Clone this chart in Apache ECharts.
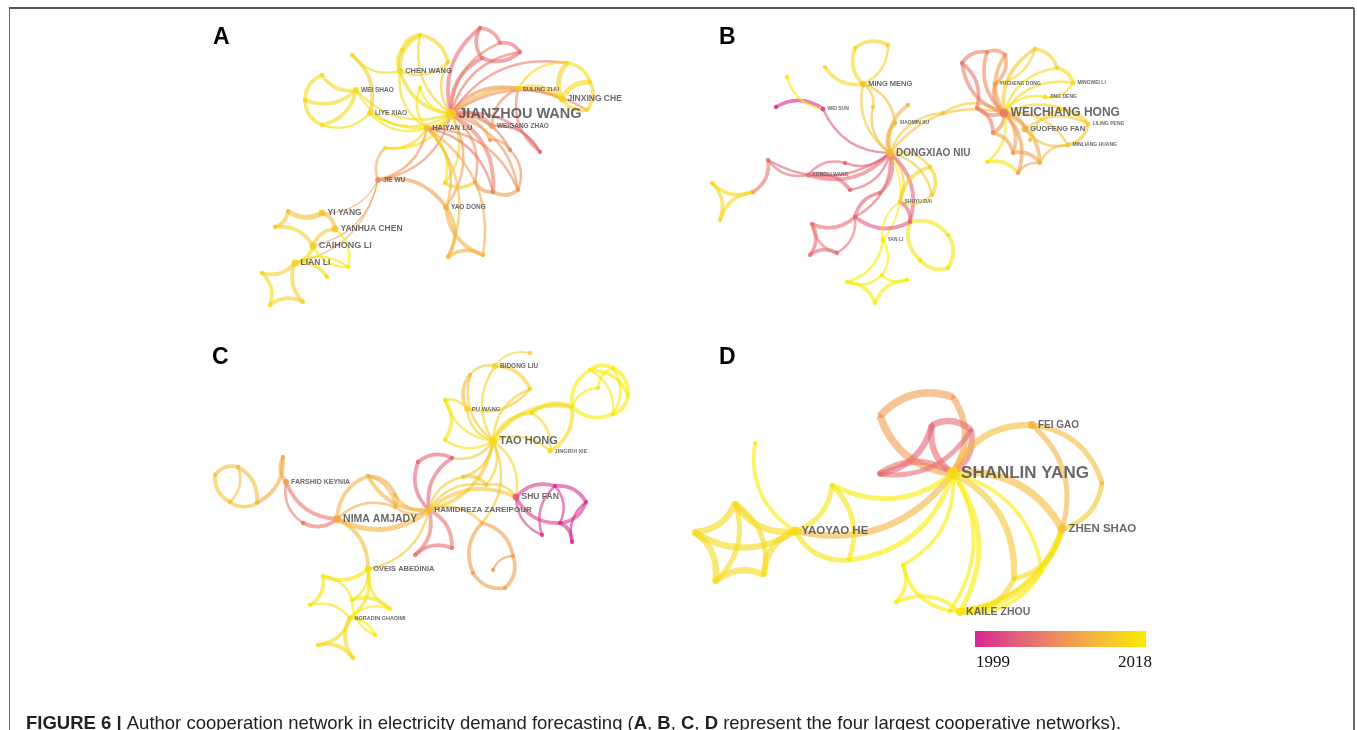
<!DOCTYPE html>
<html>
<head>
<meta charset="utf-8">
<script src="https://cdn.jsdelivr.net/npm/echarts@6/dist/echarts.min.js"></script>
<style>
html,body{margin:0;padding:0;background:#fff;}
#main{width:1357px;height:730px;}
</style>
</head>
<body>
<div id="main"></div>
<script>
// node: [name, x, y, year, papers]   link: [source, target, year, strength]
// names starting with "_" are authors without a printed label

const nodesA = [
	['JIANZHOU WANG', 451, 114, 2015, 22], ['HAIYAN LU', 427, 128, 2013, 8], ['CHEN WANG', 400, 71, 2016, 8],
	['WEI SHAO', 356, 90, 2016, 6], ['LIYE XIAO', 370, 113, 2016, 6], ['SULING ZHU', 518, 89, 2014, 5],
	['JINXING CHE', 562, 99, 2015, 10], ['WEIGANG ZHAO', 492, 126, 2010, 6], ['JIE WU', 378, 180, 2008, 6],
	['YAO DONG', 446, 207, 2012, 6], ['YI YANG', 322, 213, 2014, 10], ['YANHUA CHEN', 335, 229, 2014, 10],
	['CAIHONG LI', 313, 246, 2015, 11], ['LIAN LI', 295, 263, 2015, 10],
	['_a1', 305, 100, 2016, 1], ['_a2', 322, 75, 2016, 1], ['_a3', 322, 125, 2016, 1], ['_a4', 352, 55, 2016, 1],
	['_a5', 420, 35, 2016, 1], ['_a6', 402, 50, 2016, 1], ['_a7', 448, 62, 2015, 1], ['_a8', 480, 28, 2005, 1],
	['_a9', 500, 43, 2007, 1], ['_a10', 520, 52, 2005, 1], ['_a11', 482, 58, 2006, 1], ['_a12', 567, 63, 2016, 1],
	['_a13', 590, 82, 2016, 1], ['_a14', 587, 110, 2015, 1], ['_a15', 540, 152, 2004, 1], ['_a16', 518, 190, 2009, 1],
	['_a17', 493, 192, 2008, 1], ['_a18', 475, 182, 2010, 1], ['_a19', 445, 183, 2015, 1], ['_a20', 490, 140, 2010, 1],
	['_a21', 510, 150, 2007, 1], ['_a22', 448, 257, 2012, 1], ['_a23', 483, 255, 2012, 1], ['_a24', 385, 148, 2016, 1],
	['_a25', 420, 88, 2017, 1], ['_a28', 288, 211, 2013, 1], ['_a29', 275, 227, 2014, 1], ['_a30', 348, 267, 2018, 1],
	['_a31', 327, 277, 2016, 1], ['_a32', 262, 273, 2015, 1], ['_a33', 270, 305, 2016, 1], ['_a34', 303, 302, 2015, 1]
];
const linksA = [
	['JIANZHOU WANG', 'HAIYAN LU', 2014, 4], ['JIANZHOU WANG', 'CHEN WANG', 2016, 3], ['JIANZHOU WANG', 'WEI SHAO', 2016, 2],
	['JIANZHOU WANG', 'LIYE XIAO', 2017, 2], ['JIANZHOU WANG', 'SULING ZHU', 2009, 3], ['JIANZHOU WANG', 'JINXING CHE', 2012, 3],
	['JIANZHOU WANG', 'WEIGANG ZHAO', 2007, 3], ['JIANZHOU WANG', 'JIE WU', 2008, 2], ['JIANZHOU WANG', 'YAO DONG', 2010, 2],
	['JIANZHOU WANG', '_a8', 2005, 3], ['JIANZHOU WANG', '_a11', 2005, 3], ['JIANZHOU WANG', '_a10', 2006, 2],
	['JIANZHOU WANG', '_a9', 2008, 2], ['JIANZHOU WANG', '_a5', 2015, 2], ['JIANZHOU WANG', '_a7', 2014, 2],
	['JIANZHOU WANG', '_a15', 2005, 2], ['JIANZHOU WANG', '_a16', 2009, 2], ['JIANZHOU WANG', '_a17', 2007, 3],
	['JIANZHOU WANG', '_a18', 2008, 2], ['JIANZHOU WANG', '_a19', 2016, 2], ['JIANZHOU WANG', '_a20', 2010, 2],
	['JIANZHOU WANG', '_a21', 2007, 2], ['JIANZHOU WANG', '_a24', 2017, 2], ['JIANZHOU WANG', '_a25', 2018, 2],
	['JIANZHOU WANG', '_a14', 2008, 2], ['JIANZHOU WANG', '_a12', 2006, 2],
	['HAIYAN LU', 'CHEN WANG', 2016, 2], ['HAIYAN LU', 'LIYE XIAO', 2017, 2], ['HAIYAN LU', 'WEI SHAO', 2016, 1.5],
	['HAIYAN LU', 'YAO DONG', 2012, 2], ['HAIYAN LU', 'JIE WU', 2009, 2], ['HAIYAN LU', '_a19', 2017, 2],
	['HAIYAN LU', '_a24', 2016, 2], ['HAIYAN LU', '_a22', 2013, 2], ['HAIYAN LU', '_a23', 2011, 2],
	['HAIYAN LU', '_a16', 2008, 2], ['HAIYAN LU', '_a17', 2006, 2], ['HAIYAN LU', '_a25', 2017, 2],
	['WEI SHAO', '_a1', 2016, 3], ['WEI SHAO', '_a2', 2016, 3], ['WEI SHAO', '_a3', 2016, 3],
	['_a1', '_a2', 2016, 3], ['_a3', '_a1', 2016, 3], ['LIYE XIAO', '_a3', 2016, 2],
	['_a4', 'LIYE XIAO', 2014, 3], ['CHEN WANG', '_a4', 2016, 2],
	['CHEN WANG', '_a5', 2016, 3], ['CHEN WANG', '_a6', 2016, 3], ['_a6', '_a5', 2016, 3], ['_a5', '_a7', 2015, 3], ['_a7', 'CHEN WANG', 2015, 2],
	['_a8', '_a9', 2006, 3], ['_a9', '_a10', 2005, 3], ['_a10', '_a11', 2005, 3], ['_a11', '_a8', 2005, 3],
	['JINXING CHE', '_a12', 2015, 4], ['JINXING CHE', '_a13', 2016, 4], ['_a12', '_a13', 2016, 3],
	['_a13', '_a14', 2015, 3], ['_a14', 'JINXING CHE', 2016, 3], ['SULING ZHU', '_a12', 2016, 2],
	['SULING ZHU', 'JINXING CHE', 2015, 3], ['WEIGANG ZHAO', 'SULING ZHU', 2008, 2], ['WEIGANG ZHAO', '_a15', 2004, 2],
	['_a15', 'SULING ZHU', 2006, 2],
	['_a16', '_a17', 2010, 3], ['_a17', '_a18', 2009, 3], ['_a18', '_a19', 2014, 3], ['_a21', '_a16', 2008, 2], ['_a20', '_a21', 2009, 2],
	['YAO DONG', '_a22', 2012, 3], ['_a23', 'YAO DONG', 2012, 3], ['_a22', '_a23', 2012, 3],
	['JIE WU', 'YAO DONG', 2010, 3], ['JIE WU', '_a24', 2011, 2],
	['JIE WU', 'CAIHONG LI', 2009, 1], ['JIE WU', 'YI YANG', 2009, 1], ['JIE WU', 'LIAN LI', 2010, 1],
	['YI YANG', 'YANHUA CHEN', 2013, 3], ['YI YANG', '_a28', 2013, 4], ['_a28', '_a29', 2014, 3], ['_a29', 'CAIHONG LI', 2015, 3],
	['CAIHONG LI', 'YANHUA CHEN', 2014, 3], ['CAIHONG LI', 'LIAN LI', 2016, 3], ['LIAN LI', '_a30', 2017, 2],
	['_a30', 'CAIHONG LI', 2018, 2], ['YANHUA CHEN', '_a30', 2018, 2], ['LIAN LI', '_a31', 2016, 3],
	['LIAN LI', '_a32', 2015, 3], ['_a32', '_a33', 2016, 3], ['_a33', '_a34', 2015, 3], ['_a34', 'LIAN LI', 2015, 3]
];

const nodesB = [
	['DONGXIAO NIU', 890, 153, 2013, 13], ['WEICHIANG HONG', 1004, 113, 2006, 17], ['MING MENG', 863, 84, 2014, 8],
	['WEI SUN', 823, 109, 2001, 3], ['XIAOMIN XU', 895, 123, 2012, 3], ['YONGLI WANG', 808, 175, 2006, 3],
	['SHUYU DAI', 900, 202, 2015, 3], ['YAN LI', 883, 240, 2018, 3], ['YUCHENG DONG', 995, 84, 2010, 3],
	['MINGWEI LI', 1073, 83, 2016, 3], ['JING DENG', 1045, 97, 2017, 3], ['GUOFENG FAN', 1025, 129, 2011, 8],
	['LILING PENG', 1088, 124, 2015, 3], ['MINLIANG HUANG', 1068, 145, 2014, 3],
	['_b1', 776, 107, 1999, 1], ['_b2', 787, 77, 2017, 1], ['_b3', 825, 67, 2016, 1], ['_b4', 855, 48, 2016, 1],
	['_b5', 888, 45, 2015, 1], ['_b6', 873, 107, 2014, 1], ['_b7', 908, 105, 2012, 1], ['_b8', 768, 160, 2005, 1],
	['_b9', 753, 192, 2010, 1], ['_b10', 712, 183, 2016, 1], ['_b11', 720, 220, 2016, 1], ['_b12', 845, 163, 2004, 1],
	['_b13', 850, 190, 2004, 1], ['_b14', 930, 167, 2015, 1], ['_b15', 932, 195, 2015, 1], ['_b16', 910, 222, 2003, 1],
	['_b17', 855, 217, 2004, 1], ['_b18', 880, 193, 2005, 1], ['_b19', 812, 224, 2005, 1], ['_b20', 810, 255, 2005, 1],
	['_b21', 837, 253, 2005, 1], ['_b22', 948, 235, 2017, 1], ['_b23', 948, 268, 2017, 1], ['_b24', 920, 260, 2017, 1],
	['_b25', 847, 282, 2018, 1], ['_b26', 875, 303, 2018, 1], ['_b27', 907, 280, 2018, 1], ['_b28', 882, 275, 2018, 1],
	['_b29', 943, 113, 2014, 1], ['_b30', 962, 63, 2006, 1], ['_b31', 987, 52, 2007, 1], ['_b32', 1005, 55, 2009, 1],
	['_b33', 1035, 49, 2015, 1], ['_b34', 1057, 68, 2016, 1], ['_b35', 977, 108, 2007, 1], ['_b36', 993, 133, 2008, 1],
	['_b37', 1013, 153, 2010, 1], ['_b38', 1040, 163, 2011, 1], ['_b39', 987, 162, 2017, 1], ['_b40', 1018, 173, 2010, 1],
	['_b41', 1030, 140, 2014, 1], ['_b42', 1060, 110, 2015, 1]
];
const linksB = [
	['DONGXIAO NIU', 'MING MENG', 2014, 2], ['DONGXIAO NIU', 'WEI SUN', 2003, 2], ['DONGXIAO NIU', 'XIAOMIN XU', 2012, 3],
	['DONGXIAO NIU', 'YONGLI WANG', 2005, 3], ['DONGXIAO NIU', 'SHUYU DAI', 2015, 2], ['DONGXIAO NIU', 'YAN LI', 2018, 1.5],
	['DONGXIAO NIU', '_b6', 2013, 2], ['DONGXIAO NIU', '_b7', 2012, 3], ['DONGXIAO NIU', '_b12', 2004, 2],
	['DONGXIAO NIU', '_b13', 2004, 2], ['DONGXIAO NIU', '_b14', 2014, 2], ['DONGXIAO NIU', '_b15', 2014, 2],
	['DONGXIAO NIU', '_b16', 2004, 3], ['DONGXIAO NIU', '_b17', 2005, 2], ['DONGXIAO NIU', '_b18', 2005, 3],
	['DONGXIAO NIU', '_b29', 2014, 2], ['DONGXIAO NIU', 'WEICHIANG HONG', 2013, 2], ['DONGXIAO NIU', '_b8', 2004, 2],
	['MING MENG', '_b3', 2016, 3], ['MING MENG', '_b4', 2016, 3], ['_b4', '_b5', 2015, 3], ['_b5', 'MING MENG', 2015, 2],
	['MING MENG', 'XIAOMIN XU', 2013, 2], ['MING MENG', '_b6', 2014, 2],
	['_b1', 'WEI SUN', 1999, 3], ['WEI SUN', '_b2', 2017, 2],
	['YONGLI WANG', '_b8', 2005, 2], ['_b8', '_b9', 2006, 3], ['_b9', '_b10', 2016, 3], ['_b10', '_b11', 2016, 3],
	['_b11', '_b9', 2016, 3], ['YONGLI WANG', '_b12', 2005, 2], ['YONGLI WANG', '_b13', 2004, 3],
	['SHUYU DAI', '_b14', 2015, 3], ['_b14', '_b15', 2015, 3], ['_b15', 'SHUYU DAI', 2015, 2], ['SHUYU DAI', '_b16', 2004, 3],
	['_b16', '_b17', 2003, 3], ['_b17', '_b18', 2004, 3], ['_b17', '_b19', 2005, 3], ['_b19', '_b20', 2005, 3],
	['_b20', '_b21', 2005, 3], ['_b21', '_b19', 2006, 2], ['_b17', '_b21', 2005, 2],
	['_b16', '_b22', 2017, 3], ['_b22', '_b23', 2017, 3], ['_b23', '_b24', 2017, 3], ['_b24', '_b16', 2017, 3],
	['YAN LI', '_b25', 2018, 2], ['_b25', '_b26', 2018, 3], ['_b26', '_b27', 2018, 3], ['_b27', '_b28', 2018, 2],
	['_b28', '_b25', 2018, 2], ['YAN LI', '_b28', 2018, 2], ['YAN LI', 'SHUYU DAI', 2017, 1.5],
	['_b29', 'WEICHIANG HONG', 2014, 2],
	['WEICHIANG HONG', 'YUCHENG DONG', 2008, 3], ['WEICHIANG HONG', 'MINGWEI LI', 2016, 2], ['WEICHIANG HONG', 'JING DENG', 2017, 2],
	['WEICHIANG HONG', 'GUOFENG FAN', 2011, 3], ['WEICHIANG HONG', 'LILING PENG', 2015, 2], ['WEICHIANG HONG', 'MINLIANG HUANG', 2014, 2],
	['WEICHIANG HONG', '_b30', 2007, 3], ['WEICHIANG HONG', '_b31', 2008, 3], ['WEICHIANG HONG', '_b32', 2010, 3],
	['WEICHIANG HONG', '_b33', 2014, 3], ['WEICHIANG HONG', '_b34', 2016, 2], ['WEICHIANG HONG', '_b35', 2007, 3],
	['WEICHIANG HONG', '_b36', 2009, 3], ['WEICHIANG HONG', '_b37', 2010, 3], ['WEICHIANG HONG', '_b38', 2011, 3],
	['WEICHIANG HONG', '_b39', 2017, 2], ['WEICHIANG HONG', '_b40', 2010, 3],
	['_b30', '_b31', 2007, 3], ['_b31', '_b32', 2008, 3], ['_b32', 'YUCHENG DONG', 2009, 3], ['_b30', '_b35', 2006, 3],
	['_b35', '_b36', 2007, 3], ['_b36', '_b37', 2010, 3], ['_b37', '_b38', 2010, 3], ['_b38', 'MINLIANG HUANG', 2013, 2],
	['_b33', '_b34', 2015, 3], ['_b34', 'MINGWEI LI', 2016, 3], ['MINGWEI LI', 'JING DENG', 2017, 2],
	['_b33', 'YUCHENG DONG', 2015, 2], ['GUOFENG FAN', 'LILING PENG', 2014, 2], ['LILING PENG', 'MINLIANG HUANG', 2014, 3],
	['MINLIANG HUANG', 'GUOFENG FAN', 2013, 2], ['_b39', '_b40', 2017, 3], ['_b40', '_b38', 2010, 2],
	['_b41', '_b42', 2015, 2], ['_b42', 'LILING PENG', 2015, 2]
];

const nodesC = [
	['TAO HONG', 493, 441, 2016, 15], ['BIDONG LIU', 495, 366, 2015, 6], ['PU WANG', 467, 409, 2015, 5],
	['JINGRUI XIE', 550, 451, 2016, 4], ['FARSHID KEYNIA', 286, 482, 2010, 7], ['NIMA AMJADY', 337, 519, 2011, 14],
	['HAMIDREZA ZAREIPOUR', 429, 510, 2013, 9], ['SHU FAN', 516, 497, 2003, 10], ['OVEIS ABEDINIA', 368, 569, 2016, 8],
	['NORADIN GHADIMI', 350, 618, 2017, 4],
	['_c1', 530, 353, 2015, 1], ['_c2', 530, 389, 2015, 1], ['_c3', 470, 375, 2014, 1], ['_c4', 445, 400, 2017, 1],
	['_c5', 445, 440, 2017, 1], ['_c6', 532, 413, 2016, 1], ['_c7', 572, 407, 2017, 1], ['_c8', 590, 370, 2018, 1],
	['_c9', 613, 368, 2018, 1], ['_c10', 628, 395, 2018, 1], ['_c11', 613, 414, 2018, 1], ['_c12', 598, 388, 2018, 1],
	['_c14', 215, 475, 2014, 1], ['_c15', 238, 467, 2013, 1], ['_c16', 230, 502, 2014, 1], ['_c17', 257, 503, 2013, 1],
	['_c18', 283, 457, 2011, 1], ['_c19', 303, 523, 2006, 1], ['_c20', 368, 476, 2012, 1], ['_c21', 395, 495, 2012, 1],
	['_c22', 395, 507, 2012, 1], ['_c23', 418, 462, 2004, 1], ['_c24', 452, 458, 2004, 1], ['_c25', 415, 555, 2006, 1],
	['_c26', 452, 548, 2006, 1], ['_c27', 463, 477, 2014, 1], ['_c28', 486, 485, 2014, 1], ['_c29', 482, 523, 2012, 1],
	['_c30', 513, 556, 2010, 1], ['_c31', 505, 588, 2010, 1], ['_c32', 473, 573, 2010, 1], ['_c33', 493, 570, 2010, 1],
	['_c34', 555, 486, 2000, 1], ['_c35', 586, 502, 2000, 1], ['_c36', 560, 523, 2000, 1], ['_c37', 572, 542, 1999, 1],
	['_c38', 542, 535, 2000, 1], ['_c39', 323, 576, 2017, 1], ['_c40', 310, 605, 2017, 1], ['_c41', 352, 600, 2017, 1],
	['_c42', 390, 609, 2018, 1], ['_c43', 375, 635, 2018, 1], ['_c44', 318, 645, 2016, 1], ['_c45', 353, 658, 2016, 1]
];
const linksC = [
	['TAO HONG', 'BIDONG LIU', 2015, 2], ['TAO HONG', 'PU WANG', 2015, 2], ['TAO HONG', 'JINGRUI XIE', 2016, 2],
	['TAO HONG', '_c2', 2015, 2], ['TAO HONG', '_c3', 2014, 2], ['TAO HONG', '_c4', 2017, 2], ['TAO HONG', '_c5', 2017, 2],
	['TAO HONG', '_c6', 2016, 3], ['TAO HONG', '_c7', 2016, 3], ['TAO HONG', 'HAMIDREZA ZAREIPOUR', 2014, 3],
	['TAO HONG', '_c24', 2014, 2], ['TAO HONG', '_c27', 2014, 2], ['TAO HONG', '_c28', 2015, 2],
	['TAO HONG', 'SHU FAN', 2015, 2], ['TAO HONG', '_c29', 2014, 2],
	['BIDONG LIU', '_c1', 2015, 1.5], ['BIDONG LIU', '_c2', 2015, 3], ['_c2', 'PU WANG', 2014, 2],
	['PU WANG', '_c3', 2013, 3], ['_c3', 'BIDONG LIU', 2014, 2], ['_c4', '_c5', 2017, 3], ['_c4', 'PU WANG', 2016, 2],
	['_c6', '_c7', 2016, 3], ['_c7', 'JINGRUI XIE', 2016, 3], ['_c6', 'JINGRUI XIE', 2016, 2],
	['_c7', '_c8', 2018, 3], ['_c8', '_c9', 2018, 3], ['_c9', '_c10', 2018, 3], ['_c10', '_c11', 2018, 3],
	['_c11', '_c7', 2018, 3], ['_c8', '_c10', 2018, 3], ['_c9', '_c11', 2018, 2], ['_c7', '_c12', 2018, 2],
	['_c12', '_c9', 2018, 2], ['_c8', '_c11', 2018, 2],
	['HAMIDREZA ZAREIPOUR', 'NIMA AMJADY', 2012, 4], ['HAMIDREZA ZAREIPOUR', '_c23', 2004, 3],
	['HAMIDREZA ZAREIPOUR', '_c24', 2004, 3], ['HAMIDREZA ZAREIPOUR', '_c25', 2006, 3], ['HAMIDREZA ZAREIPOUR', '_c26', 2006, 3],
	['_c23', '_c24', 2004, 3], ['_c25', '_c26', 2005, 3], ['HAMIDREZA ZAREIPOUR', '_c20', 2012, 3],
	['HAMIDREZA ZAREIPOUR', '_c21', 2012, 2], ['HAMIDREZA ZAREIPOUR', '_c22', 2012, 2], ['HAMIDREZA ZAREIPOUR', '_c27', 2014, 2],
	['HAMIDREZA ZAREIPOUR', '_c28', 2014, 2], ['HAMIDREZA ZAREIPOUR', 'SHU FAN', 2014, 3], ['HAMIDREZA ZAREIPOUR', '_c29', 2013, 2],
	['HAMIDREZA ZAREIPOUR', 'OVEIS ABEDINIA', 2014, 2],
	['_c27', '_c28', 2014, 3], ['_c28', 'SHU FAN', 2014, 2], ['_c29', '_c30', 2010, 3], ['_c30', '_c31', 2010, 3],
	['_c31', '_c32', 2010, 3], ['_c32', '_c29', 2010, 3], ['_c33', '_c30', 2010, 2],
	['SHU FAN', '_c34', 2001, 3], ['_c34', '_c35', 2000, 3], ['_c35', '_c36', 2000, 3], ['_c36', 'SHU FAN', 2001, 3],
	['_c36', '_c37', 2000, 3], ['_c37', '_c35', 1999, 2], ['_c38', '_c34', 2000, 2], ['_c38', 'SHU FAN', 2001, 2],
	['_c34', '_c36', 2000, 2],
	['NIMA AMJADY', 'FARSHID KEYNIA', 2006, 3], ['NIMA AMJADY', '_c19', 2006, 3], ['_c19', 'FARSHID KEYNIA', 2006, 2],
	['NIMA AMJADY', '_c20', 2012, 3], ['_c20', '_c21', 2011, 3], ['_c21', '_c22', 2012, 3], ['_c20', '_c22', 2012, 2],
	['NIMA AMJADY', 'OVEIS ABEDINIA', 2013, 3], ['FARSHID KEYNIA', '_c18', 2011, 3], ['_c18', '_c17', 2011, 3],
	['_c17', '_c16', 2013, 3], ['_c16', '_c14', 2014, 3], ['_c14', '_c15', 2013, 3], ['_c15', '_c17', 2013, 3],
	['_c15', '_c16', 2013, 2], ['NIMA AMJADY', '_c22', 2011, 2],
	['OVEIS ABEDINIA', '_c39', 2017, 3], ['_c39', '_c40', 2017, 3], ['_c40', 'NORADIN GHADIMI', 2017, 2],
	['OVEIS ABEDINIA', 'NORADIN GHADIMI', 2017, 3], ['OVEIS ABEDINIA', '_c41', 2017, 2], ['_c41', '_c42', 2017, 3],
	['_c42', 'OVEIS ABEDINIA', 2017, 2], ['NORADIN GHADIMI', '_c42', 2018, 2], ['NORADIN GHADIMI', '_c43', 2018, 2],
	['_c43', '_c41', 2018, 2], ['NORADIN GHADIMI', '_c44', 2016, 3], ['_c44', '_c45', 2016, 3],
	['_c45', 'NORADIN GHADIMI', 2016, 3], ['_c39', '_c41', 2017, 2]
];

const nodesD = [
	['SHANLIN YANG', 953, 473, 2016, 27], ['FEI GAO', 1032, 425, 2012, 13], ['ZHEN SHAO', 1062, 529, 2014, 16],
	['YAOYAO HE', 795, 531, 2016, 16], ['KAILE ZHOU', 960, 612, 2017, 14],
	['_d1', 880, 416, 2010, 1], ['_d2', 953, 397, 2010, 1], ['_d3', 932, 425, 2005, 1], ['_d4', 971, 430, 2005, 1],
	['_d5', 879, 474, 2005, 1], ['_d6', 1102, 483, 2013, 1], ['_d7', 832, 485, 2017, 1], ['_d8', 849, 560, 2018, 1],
	['_d9', 735, 503, 2016, 1], ['_d10', 694, 532, 2016, 1], ['_d11', 715, 582, 2016, 1], ['_d12', 764, 575, 2016, 1],
	['_d13', 755, 443, 2018, 1], ['_d14', 903, 565, 2018, 1], ['_d15', 896, 602, 2018, 1], ['_d16', 950, 611, 2018, 1],
	['_d17', 1014, 579, 2015, 1], ['_d18', 1042, 571, 2018, 1]
];
const linksD = [
	['SHANLIN YANG', '_d1', 2010, 6], ['_d1', '_d2', 2010, 6], ['_d2', 'SHANLIN YANG', 2010, 5],
	['SHANLIN YANG', '_d3', 2005, 5], ['_d3', '_d4', 2005, 5], ['_d4', 'SHANLIN YANG', 2005, 5],
	['_d3', '_d5', 2004, 5], ['_d5', 'SHANLIN YANG', 2006, 5], ['_d4', '_d5', 2005, 4],
	['SHANLIN YANG', 'FEI GAO', 2013, 5], ['FEI GAO', '_d6', 2013, 4], ['_d6', 'ZHEN SHAO', 2014, 4],
	['SHANLIN YANG', 'ZHEN SHAO', 2013, 6], ['FEI GAO', 'ZHEN SHAO', 2012, 4],
	['SHANLIN YANG', 'YAOYAO HE', 2012, 5], ['SHANLIN YANG', '_d7', 2018, 4], ['_d7', 'YAOYAO HE', 2017, 4],
	['SHANLIN YANG', '_d8', 2018, 4], ['_d8', 'YAOYAO HE', 2017, 4], ['_d7', '_d8', 2017, 4], ['YAOYAO HE', '_d13', 2018, 3],
	['YAOYAO HE', '_d9', 2016, 5], ['YAOYAO HE', '_d10', 2016, 5], ['_d9', '_d10', 2016, 5], ['_d10', '_d11', 2016, 5],
	['_d11', '_d12', 2016, 5], ['_d12', 'YAOYAO HE', 2016, 5], ['_d9', '_d12', 2016, 4], ['_d9', '_d11', 2016, 4],
	['SHANLIN YANG', 'KAILE ZHOU', 2018, 4], ['SHANLIN YANG', '_d14', 2018, 3], ['_d14', '_d15', 2018, 3],
	['_d15', 'KAILE ZHOU', 2018, 3], ['SHANLIN YANG', '_d16', 2018, 3], ['_d16', '_d14', 2018, 3],
	['SHANLIN YANG', '_d17', 2014, 5], ['_d17', 'KAILE ZHOU', 2015, 4], ['ZHEN SHAO', 'KAILE ZHOU', 2017, 5],
	['ZHEN SHAO', '_d17', 2016, 4], ['SHANLIN YANG', '_d18', 2018, 3], ['_d18', 'KAILE ZHOU', 2018, 3],
	['ZHEN SHAO', '_d16', 2017, 3]
];

const panelLetters = ['A', 'B', 'C', 'D'];
const yearRange = [1999, 2018];
const yearColors = ['#d6268f', '#e4607a', '#ee905a', '#f5bf36', '#f8ec00'];

let chart = echarts.init(document.getElementById('main'));

function yearColor(y) {
	return echarts.color.lerp((y - yearRange[0]) / (yearRange[1] - yearRange[0]), yearColors);
}

function makeGraph(nodes, links) {
	return {
		type: 'graph',
		coordinateSystem: 'cartesian2d',
		animation: false,
		silent: true,
		edgeSymbol: ['none', 'none'],
		lineStyle: { curveness: 0.32, opacity: 0.6 },
		data: nodes.map(function (n) {
			let named = n[0].charAt(0) !== '_';
			return {
				name: n[0],
				value: [n[1], n[2]],
				symbolSize: 4 + n[4] * 0.3,
				itemStyle: { color: yearColor(n[3]), opacity: 0.85 },
				label: {
					show: named,
					position: 'right',
					distance: 2,
					fontSize: 3.5 + n[4] / 2,
					fontWeight: 'bold',
					fontFamily: 'Liberation Sans, Arial, sans-serif',
					color: '#4f4f4f'
				}
			};
		}),
		links: links.map(function (l) {
			return {
				source: l[0],
				target: l[1],
				lineStyle: { color: yearColor(l[2]), width: l[3] * 1.25 }
			};
		})
	};
}

let letterPos = [[213, 26], [719, 26], [212, 346], [719, 346]];

chart.setOption({
	animation: false,
	grid: { left: 0, right: 0, top: 0, bottom: 0 },
	xAxis: { type: 'value', min: 0, max: 1357, show: false },
	yAxis: { type: 'value', min: 0, max: 730, inverse: true, show: false },
	title: {
		left: 21,
		top: 709,
		text: '{b|FIGURE 6 | }Author cooperation network in electricity demand forecasting ({b|A}, {b|B}, {b|C}, {b|D} represent the four largest cooperative networks).',
		textStyle: {
			fontFamily: 'Liberation Sans, Arial, sans-serif',
			fontSize: 18.5,
			fontWeight: 'normal',
			color: '#222',
			rich: {
				b: { fontFamily: 'Liberation Sans, Arial, sans-serif', fontSize: 18.5, fontWeight: 'bold', color: '#222' }
			}
		}
	},
	graphic: [
		{ type: 'line', shape: { x1: 9, y1: 8, x2: 1354, y2: 8 }, style: { stroke: '#555', lineWidth: 2 } },
		{ type: 'line', shape: { x1: 9.5, y1: 8, x2: 9.5, y2: 730 }, style: { stroke: '#666', lineWidth: 1 } },
		{ type: 'line', shape: { x1: 1354, y1: 8, x2: 1354, y2: 730 }, style: { stroke: '#666', lineWidth: 2 } },
		{
			type: 'rect',
			shape: { x: 975, y: 631, width: 171, height: 16 },
			style: {
				fill: new echarts.graphic.LinearGradient(0, 0, 1, 0, yearColors.map(function (c, i) {
					return { offset: i / (yearColors.length - 1), color: c };
				}))
			}
		},
		{
			type: 'text', x: 976, y: 654,
			style: { text: String(yearRange[0]), font: '17px "Liberation Serif", "Times New Roman", serif', fill: '#111' }
		},
		{
			type: 'text', x: 1152, y: 654,
			style: { text: String(yearRange[1]), font: '17px "Liberation Serif", "Times New Roman", serif', fill: '#111', align: 'right' }
		}
	].concat(panelLetters.map(function (t, i) {
		return {
			type: 'text', x: letterPos[i][0], y: letterPos[i][1],
			style: { text: t, font: 'bold 23px "Liberation Sans", Arial, sans-serif', fill: '#000' }
		};
	})),
	series: [
		makeGraph(nodesA, linksA),
		makeGraph(nodesB, linksB),
		makeGraph(nodesC, linksC),
		makeGraph(nodesD, linksD)
	]
});
</script>
</body>
</html>
